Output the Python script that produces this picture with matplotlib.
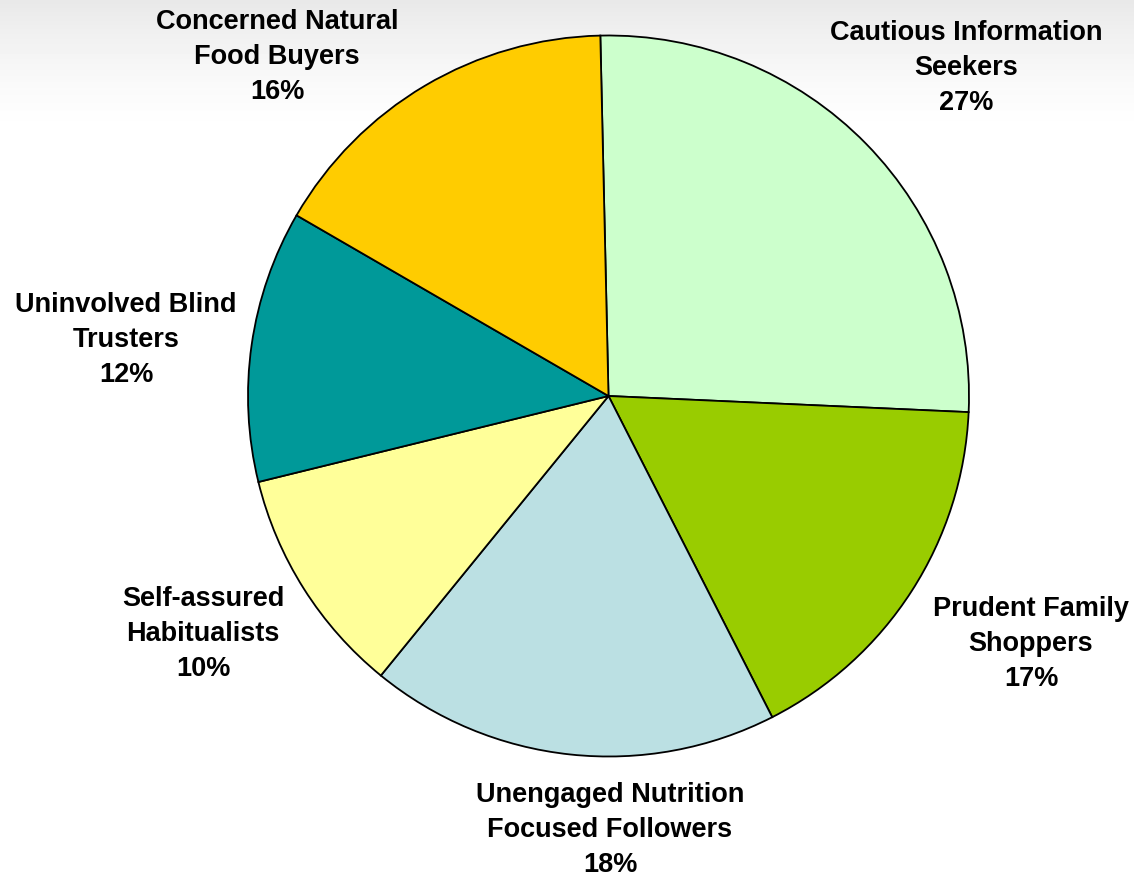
import matplotlib
matplotlib.use('Agg')
import matplotlib.pyplot as plt
import numpy as np

# segments, clockwise from 12 o'clock
labels = ['Cautious Information\nSeekers', 'Prudent Family\nShoppers',
          'Unengaged Nutrition\nFocused Followers', 'Self-assured\nHabitualists',
          'Uninvolved Blind\nTrusters', 'Concerned Natural\nFood Buyers']
pct_labels = [27, 17, 18, 10, 12, 16]
# wedge shares as drawn
shares = [26.1, 16.8, 18.4, 10.3, 12.2, 16.3]
colors = ['#CCFFCC', '#99CC00', '#BBE0E3', '#FFFF99', '#009999', '#FFCC00']

W, H = 1134, 879
fig = plt.figure(figsize=(W / 100, H / 100), dpi=100)
ax = fig.add_axes([0, 0, 1, 1])

# light grey wash at the top like the slide background
grad = np.ones((H, 1))
t = np.linspace(0, 1, 140)
grad[H - 140:, 0] = 1 - 0.09 * t ** 1.5
ax.imshow(grad, cmap='gray', vmin=0, vmax=1, extent=(0, W, 0, H),
          aspect='auto', zorder=0, origin='lower')

ax.pie(shares, colors=colors, startangle=91.3, counterclock=False,
       center=(608.5, H - 397), radius=360.5,
       wedgeprops={'edgecolor': 'black', 'linewidth': 1.3}, frame=True)
ax.set_xlim(0, W)
ax.set_ylim(0, H)
ax.set_aspect('equal')
ax.axis('off')

# label anchor positions (pixel coords from top)
label_pos = [(966, 68), (1031, 644), (610, 830), (203, 634), (126, 340), (277, 57)]
for lab, p, (x, y) in zip(labels, pct_labels, label_pos):
    ax.text(x, H - y, f'{lab}\n{p}%', ha='center', va='center',
            fontsize=19.5, fontweight='bold', family='Liberation Sans',
            linespacing=1.45, zorder=5)

fig.savefig('out.png', dpi=100)
